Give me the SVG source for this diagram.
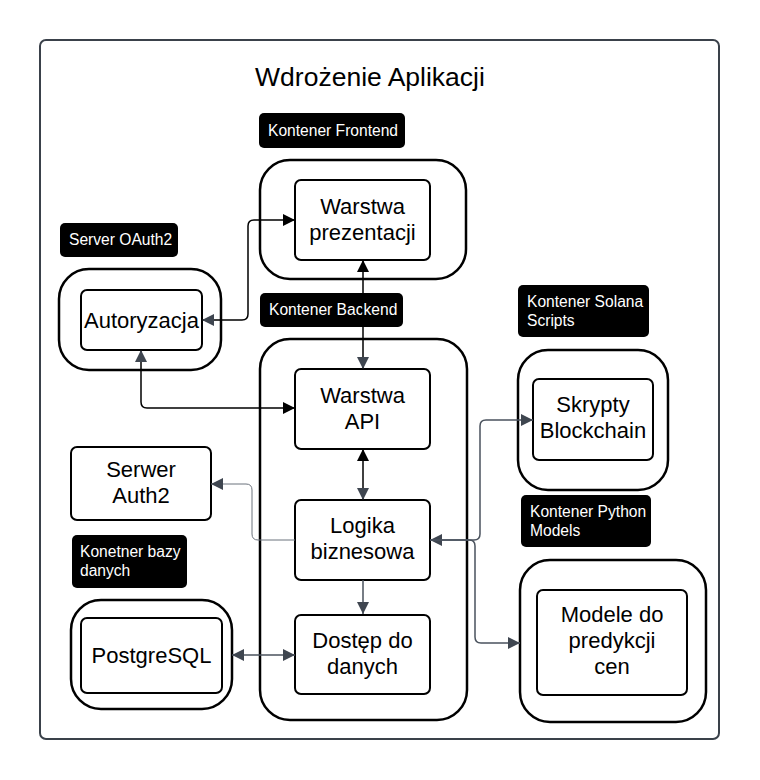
<svg xmlns="http://www.w3.org/2000/svg" width="760" height="780" viewBox="0 0 760 780">
<defs>
<marker id="ab" viewBox="0 0 12 12" refX="12" refY="6" markerWidth="12" markerHeight="12" markerUnits="userSpaceOnUse" orient="auto-start-reverse"><path d="M0,0 L12,6 L0,12 Z" fill="#000"/></marker>
<marker id="ag" viewBox="0 0 12 12" refX="12" refY="6" markerWidth="12" markerHeight="12" markerUnits="userSpaceOnUse" orient="auto-start-reverse"><path d="M0,0 L12,6 L0,12 Z" fill="#3f4650"/></marker>
<style>
.frame{fill:#fff;stroke:#3a414a;stroke-width:2}
.cont{fill:none;stroke:#000;stroke-width:2.5}
.node{fill:#fff;stroke:#000;stroke-width:2}
.lab{fill:#000}
.lt{font-family:"Liberation Sans",Arial,sans-serif;font-size:15.6px;fill:#fff}
.nt{font-family:"Liberation Sans",Arial,sans-serif;font-size:22px;fill:#000;text-anchor:middle}
.title{font-family:"Liberation Sans",Arial,sans-serif;font-size:26.5px;fill:#000;text-anchor:middle}
.c{fill:none;stroke:#000;stroke-width:1.5}
.g{fill:none;stroke:#4a525d;stroke-width:1.5}
.gl{fill:none;stroke:#6b727c;stroke-width:1}
</style>
</defs>
<rect width="760" height="780" fill="#fff"/>
<rect class="frame" x="40" y="40" width="679" height="699" rx="6"/>
<text class="title" x="370" y="86">Wdrożenie Aplikacji</text>

<g id="label-frontend"><rect class="lab" x="259" y="113" width="146" height="35" rx="5"/><text class="lt" x="268" y="136">Kontener Frontend</text></g>
<g id="label-oauth"><rect class="lab" x="60" y="223" width="118" height="34" rx="5"/><text class="lt" x="69" y="245">Server OAuth2</text></g>
<g id="label-backend"><rect class="lab" x="260" y="293" width="143" height="34" rx="5"/><text class="lt" x="269" y="315">Kontener Backend</text></g>
<g id="label-solana"><rect class="lab" x="518" y="285" width="131" height="52" rx="5"/><text class="lt" x="527" y="307">Kontener Solana</text><text class="lt" x="527" y="326">Scripts</text></g>
<g id="label-python"><rect class="lab" x="521" y="495" width="130" height="52" rx="5"/><text class="lt" x="530" y="517">Kontener Python</text><text class="lt" x="530" y="536">Models</text></g>
<g id="label-db"><rect class="lab" x="72" y="535" width="115" height="53" rx="5"/><text class="lt" x="80" y="557">Konetner bazy</text><text class="lt" x="80" y="576">danych</text></g>

<g id="frontend-container"><rect class="cont" x="260" y="160" width="206" height="119" rx="30"/></g>
<g id="oauth-container"><rect class="cont" x="59" y="269" width="162" height="101" rx="30"/></g>
<g id="backend-container"><rect class="cont" x="260" y="339" width="207" height="381" rx="30"/></g>
<g id="solana-container"><rect class="cont" x="518" y="350" width="150" height="140" rx="30"/></g>
<g id="python-container"><rect class="cont" x="520" y="560" width="186" height="162" rx="30"/></g>
<g id="db-container"><rect class="cont" x="71" y="600" width="161" height="109" rx="30"/></g>

<g id="warstwa-prezentacji"><rect class="node" x="295" y="180" width="135" height="80" rx="6"/><text class="nt" x="362.5" y="214">Warstwa</text><text class="nt" x="362.5" y="240">prezentacji</text></g>
<g id="autoryzacja"><rect class="node" x="81" y="290" width="121" height="60" rx="6"/><text class="nt" x="141.5" y="328">Autoryzacja</text></g>
<g id="warstwa-api"><rect class="node" x="295" y="369" width="135" height="80" rx="6"/><text class="nt" x="362.5" y="403">Warstwa</text><text class="nt" x="362.5" y="429">API</text></g>
<g id="serwer-auth2"><rect class="node" x="71" y="447" width="140" height="73" rx="6"/><text class="nt" x="141" y="477">Serwer</text><text class="nt" x="141" y="503">Auth2</text></g>
<g id="logika-biznesowa"><rect class="node" x="295" y="500" width="135" height="80" rx="6"/><text class="nt" x="362.5" y="533">Logika</text><text class="nt" x="362.5" y="559">biznesowa</text></g>
<g id="dostep-do-danych"><rect class="node" x="295" y="615" width="135" height="79" rx="6"/><text class="nt" x="362.5" y="648">Dostęp do</text><text class="nt" x="362.5" y="674">danych</text></g>
<g id="postgresql"><rect class="node" x="81" y="618" width="141" height="75" rx="6"/><text class="nt" x="151.5" y="663">PostgreSQL</text></g>
<g id="skrypty-blockchain"><rect class="node" x="533" y="379" width="120" height="81" rx="6"/><text class="nt" x="593" y="412">Skrypty</text><text class="nt" x="593" y="438">Blockchain</text></g>
<g id="modele"><rect class="node" x="537" y="590" width="150" height="105" rx="6"/><text class="nt" x="612" y="622">Modele do</text><text class="nt" x="612" y="648">predykcji</text><text class="nt" x="612" y="674">cen</text></g>

<g id="connectors">
<path class="c" d="M202,320 H242 Q248,320 248,314 V226 Q248,220 254,220 H295" marker-start="url(#ag)" marker-end="url(#ab)"/>
<path class="c" d="M363,260 V369" marker-start="url(#ab)" marker-end="url(#ag)"/>
<path class="c" d="M141,350 V402 Q141,408 147,408 H295" marker-start="url(#ag)" marker-end="url(#ab)"/>
<path class="c" d="M363,449 V500" marker-start="url(#ab)" marker-end="url(#ag)"/>
<path class="gl" d="M295,540 H258 Q252,540 252,534 V490 Q252,484 246,484 H211" marker-end="url(#ag)"/>
<path class="g" d="M363,580 V614" marker-end="url(#ag)"/>
<path class="g" d="M232,655 H295" stroke-width="2" marker-start="url(#ag)" marker-end="url(#ag)"/>
<path class="g" d="M430,540 H474 Q480,540 480,534 V426 Q480,420 486,420 H533" marker-start="url(#ag)" marker-end="url(#ag)"/>
<path class="g" d="M430,540 H469 Q475,540 475,546 V637 Q475,643 481,643 H520" marker-end="url(#ag)"/>
</g>
</svg>
